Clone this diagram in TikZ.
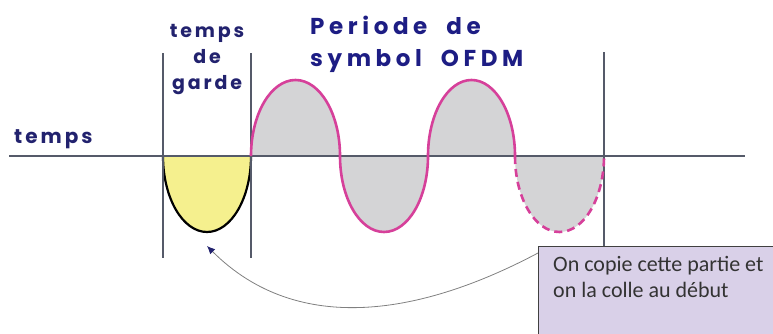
\documentclass[tikz,border=0pt]{standalone}
\usepackage{fontspec}
\newfontfamily\comic{Poppins}[LetterSpace=15]
\newfontfamily\comicwide{Poppins}[LetterSpace=20,WordSpace=2]
\newfontfamily\notefont{Carlito}
\usetikzlibrary{arrows.meta,positioning}
\definecolor{inkblue}{RGB}{34,34,110}
\definecolor{wavepink}{RGB}{214,64,154}
\definecolor{humpgray}{RGB}{212,212,214}
\definecolor{guardyellow}{RGB}{245,240,142}
\definecolor{notefill}{RGB}{217,208,232}
\definecolor{axisgray}{RGB}{85,90,105}

\begin{document}
\begin{tikzpicture}[x=1pt,y=1pt,
  lbl/.style={font=\comic\bfseries\fontsize{20}{26}\selectfont,text=inkblue,inner sep=0pt},
  wave/.style={draw=wavepink,line width=2.6pt},
  rule/.style={draw=axisgray,line width=1.2pt},
  edge/.style={-{Latex[length=8pt,width=7pt,color=inkblue]},draw=gray,thick}]
\useasboundingbox (0,0) rectangle (773,334);
% grey lobes of the OFDM symbol
\fill[humpgray] (251,178) arc[start angle=180,end angle=0,x radius=44.5,y radius=76]
  arc[start angle=180,end angle=360,x radius=44,y radius=76]
  arc[start angle=180,end angle=0,x radius=43.5,y radius=76]
  arc[start angle=180,end angle=360,x radius=44.5,y radius=76] -- cycle;
% guard interval
\filldraw[fill=guardyellow,draw=black,line width=2.2pt]
  (163,178) arc[start angle=180,end angle=360,x radius=44,y radius=76];
\draw[rule] (9,178) -- (745,178);
\draw[rule] (163,76) -- (163,281);
\draw[rule] (251,76) -- (251,281);
\draw[rule] (604,88) -- (604,282);
\draw[wave] (251,178) arc[start angle=180,end angle=0,x radius=44.5,y radius=76]
  arc[start angle=180,end angle=360,x radius=44,y radius=76]
  arc[start angle=180,end angle=0,x radius=43.5,y radius=76];
\draw[wave,dash pattern=on 8pt off 5pt]
  (515,178) arc[start angle=180,end angle=360,x radius=44.5,y radius=76];
% labels
\node[lbl,anchor=base west] (temps) at (14,190) {temps};
\node[lbl,font=\comic\bfseries\fontsize{19}{26}\selectfont,align=center,anchor=base] (garde) at (207,244) {temps\\de\\garde};
\node[lbl,font=\comicwide\bfseries\fontsize{23}{32}\selectfont,text=inkblue!85!blue,align=left,anchor=base west] (periode) at (310,267) {Periode de\\symbol OFDM};
\node[draw=black!75,fill=notefill,line width=1pt,anchor=north west,
  minimum width=245,minimum height=100] (note) at (538,88) {};
\node[font=\notefont\fontsize{22}{26}\selectfont,text=black!80,align=left,
  inner sep=0pt,anchor=base west] (notetext)
  at ([xshift=15pt,yshift=-52pt]note.north west) {On copie cette partie et\\on la colle au début};
\coordinate (tip) at (207,88);
\draw[edge] ([yshift=-7pt]note.north west) to[out=208,in=-45] (tip);
\end{tikzpicture}
\end{document}
